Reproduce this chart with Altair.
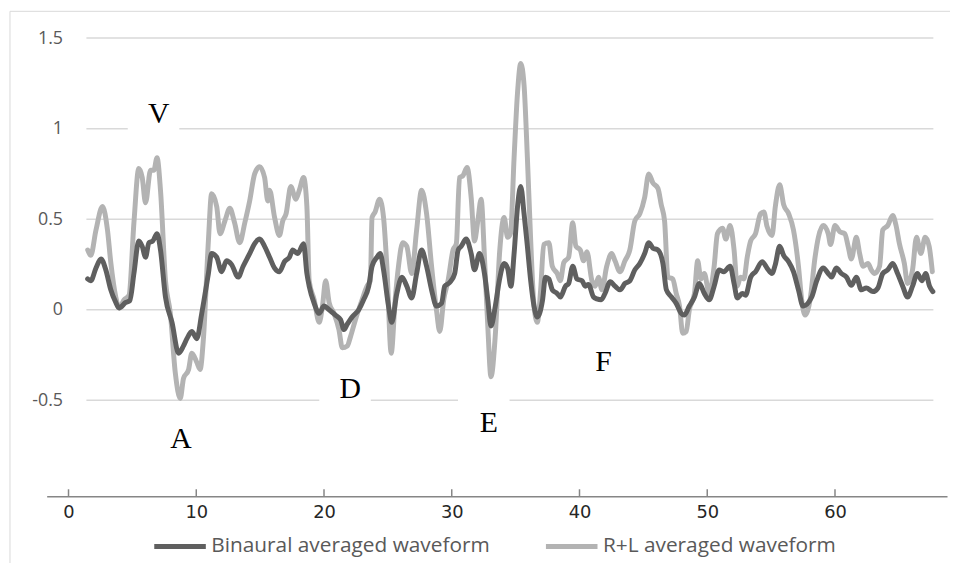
import altair as alt
import pandas as pd

# ---------------- data ----------------
bin_x = [1.5, 1.74, 2.15, 2.54, 2.92, 3.31, 3.7, 3.96, 4.48, 4.8, 5.12, 5.5, 5.77, 6.03, 6.29, 6.6, 6.93, 7.2,
         7.59, 8.1, 8.62, 9.0, 9.27, 9.65, 10.04, 10.43, 10.95, 11.2, 11.6, 11.98, 12.37, 12.76, 13.28, 13.67,
         14.18, 14.57, 14.96, 15.35, 15.74, 16.13, 16.51, 16.9, 17.29, 17.55, 17.94, 18.4, 18.66, 18.84, 19.23,
         19.62, 20.0, 20.4, 20.9, 21.3, 21.56, 21.82, 22.2, 22.72, 23.1, 23.5, 23.76, 24.15, 24.4, 24.66, 25.05,
         25.3, 25.7, 26.1, 26.48, 26.86, 27.25, 27.64, 28.03, 28.42, 28.8, 29.2, 29.45, 29.84, 30.23, 30.5,
         30.74, 31.13, 31.52, 31.78, 32.17, 32.56, 32.82, 33.07, 33.41, 33.72, 34.1, 34.37, 34.63, 34.88, 35.15,
         35.4, 35.66, 35.92, 36.18, 36.44, 36.7, 37.1, 37.34, 37.6, 37.87, 38.25, 38.5, 38.9, 39.15, 39.47, 39.8,
         40.2, 40.45, 40.7, 41.1, 41.36, 41.7, 42.0, 42.4, 42.78, 43.17, 43.56, 43.94, 44.33, 44.72, 45.1, 45.42,
         45.75, 46.14, 46.53, 46.8, 47.2, 47.57, 47.96, 48.2, 48.6, 49.0, 49.38, 49.77, 50.15, 50.54, 50.93, 51.3,
         51.79, 52.1, 52.35, 52.74, 53.0, 53.4, 53.78, 54.3, 54.68, 55.07, 55.33, 55.67, 55.98, 56.37, 56.75,
         57.14, 57.5, 58.18, 58.57, 59.08, 59.47, 59.73, 60.1, 60.5, 60.9, 61.28, 61.67, 62.06, 62.45, 62.97,
         63.36, 63.74, 64.13, 64.52, 64.9, 65.3, 65.68, 66.07, 66.45, 66.8, 67.1, 67.4, 67.66]
bin_y = [0.17, 0.16, 0.23, 0.28, 0.22, 0.11, 0.04, 0.01, 0.04, 0.05, 0.20, 0.38, 0.35, 0.29, 0.37, 0.38, 0.42, 0.33,
         0.07, -0.07, -0.24, -0.20, -0.16, -0.12, -0.16, -0.02, 0.20, 0.31, 0.29, 0.21, 0.27, 0.25, 0.18, 0.24,
         0.31, 0.365, 0.39, 0.35, 0.29, 0.23, 0.21, 0.265, 0.29, 0.33, 0.31, 0.365, 0.20, 0.13, 0.035,
         -0.02, 0.02, 0.0, -0.03, -0.055, -0.11, -0.08, -0.04, 0.0, 0.055, 0.13, 0.24, 0.29, 0.31, 0.22, 0.02,
         -0.07, 0.09, 0.18, 0.13, 0.065, 0.20, 0.33, 0.24, 0.11, 0.02, 0.035, 0.13, 0.15, 0.20, 0.33,
         0.35, 0.39, 0.31, 0.22, 0.31, 0.20, 0.055, -0.09, 0.02, 0.16, 0.255, 0.23, 0.13, 0.31, 0.57,
         0.68, 0.53, 0.35, 0.16, 0.02, -0.04, 0.05, 0.18, 0.17, 0.11, 0.09, 0.07, 0.13, 0.145, 0.24, 0.17,
         0.16, 0.13, 0.14, 0.07, 0.06, 0.055, 0.09, 0.155, 0.13, 0.11, 0.145, 0.16, 0.22, 0.255, 0.31, 0.37,
         0.34, 0.33, 0.255, 0.11, 0.07, 0.035, -0.02, -0.03, 0.02, 0.07, 0.145, 0.09, 0.055, 0.13, 0.22, 0.21,
         0.24, 0.145, 0.065, 0.09, 0.08, 0.18, 0.21, 0.265, 0.23, 0.20, 0.25, 0.35, 0.30, 0.265, 0.21,
         0.11, 0.02, 0.07, 0.16, 0.23, 0.20, 0.18, 0.23, 0.20, 0.18, 0.135, 0.18, 0.11, 0.12, 0.10,
         0.12, 0.20, 0.22, 0.255, 0.20, 0.13, 0.07, 0.13, 0.20, 0.16, 0.20, 0.13, 0.10]

rl_x = [1.5, 1.74, 2.15, 2.66, 3.05, 3.31, 3.7, 3.96, 4.35, 4.74, 5.12, 5.5, 5.77, 6.03, 6.42, 6.68, 6.93, 7.2,
        7.59, 7.97, 8.36, 8.75, 9.0, 9.4, 9.65, 10.04, 10.3, 10.56, 10.95, 11.2, 11.6, 11.86, 12.24, 12.63, 13.0,
        13.4, 13.8, 14.18, 14.57, 14.96, 15.35, 15.6, 15.74, 16.13, 16.51, 16.77, 17.03, 17.4, 17.8, 18.07, 18.4,
        18.66, 18.84, 19.23, 19.62, 19.88, 20.13, 20.4, 20.78, 21.17, 21.43, 21.82, 22.07, 22.46, 22.98, 23.37,
        23.63, 23.76, 24.0, 24.35, 24.66, 24.92, 25.26, 25.57, 25.83, 26.16, 26.48, 26.86, 27.25, 27.64, 28.03,
        28.42, 28.8, 29.06, 29.37, 29.71, 30.1, 30.36, 30.61, 30.87, 31.2, 31.52, 31.78, 32.04, 32.3, 32.56,
        32.82, 33.07, 33.4, 33.75, 34.1, 34.37, 34.6, 34.88, 35.15, 35.4, 35.66, 35.92, 36.18, 36.44, 36.7,
        36.96, 37.2, 37.6, 37.87, 38.25, 38.5, 38.77, 39.15, 39.47, 39.72, 40.06, 40.32, 40.58, 40.97, 41.23,
        41.49, 41.75, 42.13, 42.52, 42.78, 43.17, 43.56, 43.94, 44.33, 44.72, 45.1, 45.42, 45.75, 46.14, 46.4,
        46.66, 46.92, 47.3, 47.57, 47.83, 48.08, 48.35, 48.6, 49.0, 49.25, 49.5, 49.77, 50.15, 50.54, 50.8,
        51.2, 51.45, 51.79, 52.1, 52.35, 52.6, 52.87, 53.13, 53.4, 53.78, 54.17, 54.43, 54.68, 55.07, 55.33,
        55.67, 55.98, 56.37, 56.75, 57.14, 57.4, 57.66, 58.05, 58.44, 58.7, 59.08, 59.47, 59.65, 60.0, 60.38,
        60.77, 61.03, 61.28, 61.67, 61.93, 62.2, 62.58, 62.84, 63.1, 63.49, 63.74, 64.13, 64.52, 64.78, 65.04,
        65.43, 65.68, 66.07, 66.38, 66.72, 67.06, 67.37, 67.62]
rl_y = [0.33, 0.30, 0.44, 0.57, 0.44, 0.26, 0.07, 0.01, 0.055, 0.08, 0.48, 0.78, 0.73, 0.59, 0.77, 0.77, 0.84, 0.66,
        0.16, -0.02, -0.35, -0.49, -0.38, -0.33, -0.24, -0.29, -0.33, -0.16, 0.38, 0.64, 0.57, 0.42, 0.49, 0.56, 0.48,
        0.37, 0.48, 0.60, 0.75, 0.79, 0.73, 0.60, 0.66, 0.51, 0.41, 0.49, 0.53, 0.68, 0.61, 0.66, 0.73,
        0.57, 0.16, 0.055, -0.07, 0.02, 0.16, 0.04, -0.02, -0.11, -0.21, -0.20, -0.15, -0.055, 0.055, 0.13,
        0.16, 0.51, 0.54, 0.61, 0.51, 0.24, -0.24, 0.055, 0.24, 0.37, 0.35, 0.20, 0.44, 0.66, 0.53,
        0.24, 0.0, -0.12, 0.055, 0.16, 0.33, 0.365, 0.73, 0.74, 0.785, 0.62, 0.38, 0.49, 0.61, 0.29,
        -0.09, -0.37, -0.15, 0.32, 0.51, 0.40, 0.42, 0.84, 1.20, 1.36, 1.24, 0.84, 0.38, 0.02, -0.07,
        0.11, 0.36, 0.37, 0.24, 0.20, 0.16, 0.26, 0.29, 0.48, 0.35, 0.33, 0.27, 0.32, 0.16, 0.13,
        0.18, 0.11, 0.24, 0.31, 0.27, 0.21, 0.27, 0.33, 0.49, 0.53, 0.62, 0.75, 0.70, 0.67, 0.58,
        0.49, 0.18, 0.17, 0.09, 0.02, -0.13, -0.12, 0.0, 0.09, 0.27, 0.17, 0.20, 0.09, 0.24, 0.42,
        0.45, 0.39, 0.465, 0.33, 0.13, 0.18, 0.17, 0.29, 0.38, 0.42, 0.53, 0.54, 0.46, 0.41, 0.57,
        0.69, 0.58, 0.53, 0.44, 0.24, 0.05, -0.03, 0.055, 0.29, 0.40, 0.465, 0.42, 0.36, 0.465, 0.43,
        0.42, 0.35, 0.28, 0.40, 0.31, 0.24, 0.255, 0.22, 0.20, 0.24, 0.44, 0.465, 0.52, 0.465, 0.365,
        0.255, 0.145, 0.22, 0.40, 0.31, 0.40, 0.35, 0.21]

series_names = ["Binaural averaged waveform", "R+L averaged waveform"]
series_colors = ["#5f5f5f", "#b3b3b3"]

y_ticks = [1.5, 1, 0.5, 0, -0.5]
x_ticks = [0, 10, 20, 30, 40, 50, 60]
grid_x = [1.4, 67.7]

labels = ["V", "A", "D", "E", "F"]
label_x = [7.06, 8.81, 22.05, 32.91, 41.88]
label_y = [1.078, -0.717, -0.438, -0.624, -0.29]

# ---------------- layout ----------------
W, H = 908, 462
X_DOMAIN = [-1.71, 68.77]
Y_DOMAIN = [-1.03, 1.5]

lines_df = pd.concat([
    pd.DataFrame({"x": bin_x, "y": bin_y, "series": series_names[0]}),
    pd.DataFrame({"x": rl_x, "y": rl_y, "series": series_names[1]}),
], ignore_index=True)
grid_df = pd.DataFrame({"y": y_ticks, "x": grid_x[0], "x2": grid_x[1]})
tick_df = pd.DataFrame({"x": x_ticks})
ann_df = pd.DataFrame({"label": labels, "x": label_x, "y": label_y})
dummy = pd.DataFrame({"a": [0]})

xs = alt.Scale(domain=X_DOMAIN, nice=False, zero=False)
ys = alt.Scale(domain=Y_DOMAIN, nice=False, zero=False)

xaxis = alt.Axis(values=x_ticks, title=None, grid=False, ticks=False, tickSize=0,
                 domainColor="#868686", domainWidth=1.5, labelPadding=7,
                 labelFont="DejaVu Sans", labelFontSize=18, labelColor="#262626",
                 labelFlush=False)
yaxis = alt.Axis(values=y_ticks, title=None, grid=False, ticks=False, tickSize=0, domain=False,
                 labelPadding=-16, labelAlign="right", labelExpr="toString(datum.value)",
                 labelFont="Open Sans", labelFontSize=18, labelColor="#595959")

X = lambda f="x:Q": alt.X(f, scale=xs, axis=xaxis)
Y = lambda f="y:Q": alt.Y(f, scale=ys, axis=yaxis)

color = alt.Color("series:N",
                  scale=alt.Scale(domain=series_names, range=series_colors),
                  legend=alt.Legend(title=None, orient="none", legendX=106, legendY=484,
                                    direction="horizontal", symbolType="stroke",
                                    symbolSize=2704, symbolStrokeWidth=5,
                                    labelFont="Open Sans", labelFontSize=21,
                                    labelColor="#595959", labelOffset=3,
                                    columnPadding=46, labelLimit=400))

grid = alt.Chart(grid_df).mark_rule(color="#d9d9d9", strokeWidth=1.5).encode(
    x=X(), x2="x2:Q", y=Y())

box_path = "M-1.2,-1.05H0.8V1.05H-1.2Z"
boxes = alt.Chart(ann_df).mark_point(shape=box_path, size=2704, filled=True,
                                     color="white", opacity=1, strokeWidth=0).encode(
    x=X(), y=Y())

ticks = alt.Chart(tick_df).mark_rule(color="#868686", strokeWidth=1.5).encode(
    x=X(), y=alt.value(H - 7), y2=alt.value(H))

line_style = dict(strokeWidth=5, interpolate="monotone", strokeCap="round", strokeJoin="round")
light = alt.Chart(lines_df).transform_filter(
    alt.datum.series == series_names[1]).mark_line(**line_style).encode(
    x=X(), y=Y(), color=color)
dark = alt.Chart(lines_df).transform_filter(
    alt.datum.series == series_names[0]).mark_line(**line_style).encode(
    x=X(), y=Y(), color=color)

text = alt.Chart(ann_df).mark_text(font="Liberation Serif", fontSize=30, color="black",
                                   baseline="middle", align="center").encode(
    x=X(), y=Y(), text="label:N")

border_left = alt.Chart(dummy).mark_rule(color="#d9d9d9", strokeWidth=1).encode(
    x=alt.value(-37), y=alt.value(-27), y2=alt.value(560))
border_top = alt.Chart(dummy).mark_rule(color="#d9d9d9", strokeWidth=1).encode(
    x=alt.value(-37), x2=alt.value(930), y=alt.value(-27))

chart = alt.layer(grid, boxes, ticks, light, dark, text, border_left, border_top).properties(
    width=W, height=H,
    autosize=alt.AutoSizeParams(type="none"),
    padding={"left": 39, "top": 28, "right": 3, "bottom": 65},
    background="white",
).configure_view(stroke=None)

chart.save("out.html", embed_options={"renderer": "svg", "actions": False})
